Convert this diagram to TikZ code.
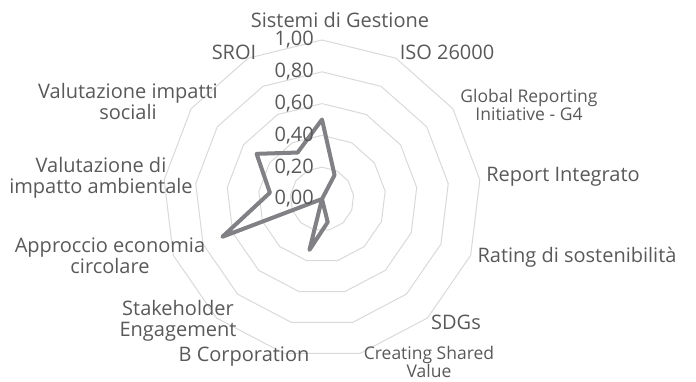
\documentclass[tikz,border=0pt]{standalone}
\usepackage{fontspec}
\setmainfont{Open Sans}
\usetikzlibrary{positioning}
\definecolor{txtgray}{RGB}{89,89,89}
\definecolor{gridgray}{RGB}{217,217,217}
\definecolor{datagray}{RGB}{128,128,133}

\begin{document}
\begin{tikzpicture}[x=1pt,y=1pt,
    gridline/.style={draw=gridgray,line width=1pt},
    dataline/.style={draw=datagray,line width=4pt,line join=round},
    lbl/.style={text=txtgray,font=\fontsize{20}{21}\selectfont,align=center,inner sep=0pt},
    smalllbl/.style={text=txtgray,font=\fontsize{17.5}{16.5}\selectfont,align=center,inner sep=0pt},
    vallbl/.style={text=txtgray,font=\fontsize{20}{21}\selectfont,anchor=east,inner sep=0pt}]
    \useasboundingbox (0,0) rectangle (696,382);
    \begin{scope}[shift={(322,183)}]
        \foreach \r in {1,...,5}
            \draw[gridline] (90:\r*31.8) \foreach \k in {1,...,12} {-- (90-\k*360/13:\r*31.8)} -- cycle;
        \foreach \v [count=\k from 0] in {0.50,0.17,0,0,0,0,0.15,0.33,0,0.67,0.33,0.50,0.33}
            \coordinate (p\k) at (90-\k*360/13:\v*159);
        \draw[dataline] (p0) \foreach \k in {1,...,12} {-- (p\k)} -- cycle;
    \end{scope}
    \node[vallbl] (v0) at (314,183) {0,00};
    \node[vallbl] (v1) at (314,214.8) {0,20};
    \node[vallbl] (v2) at (314,246.6) {0,40};
    \node[vallbl] (v3) at (314,278.4) {0,60};
    \node[vallbl] (v4) at (314,310.2) {0,80};
    \node[vallbl] (v5) at (314,342) {1,00};
    \node[lbl] (sistemi) at (340,362) {Sistemi di Gestione};
    \node[lbl] (iso) at (447,330) {ISO 26000};
    \node[smalllbl] (gri) at (529,277) {Global Reporting\\Initiative - G4};
    \node[lbl] (report) at (563,205) {Report Integrato};
    \node[lbl] (rating) at (577,125) {Rating di sostenibilità};
    \node[lbl] (sdgs) at (456,60) {SDGs};
    \node[smalllbl] (csv) at (429,20) {Creating Shared\\Value};
    \node[lbl] (bcorp) at (244,25) {B Corporation};
    \node[lbl] (stake) at (178,61) {Stakeholder\\Engagement};
    \node[lbl] (circ) at (110,126) {Approccio economia\\circolare};
    \node[lbl] (amb) at (101,204) {Valutazione di\\impatto ambientale};
    \node[lbl] (soc) at (128,280) {Valutazione impatti\\sociali};
    \node[lbl] (sroi) at (234,330) {SROI};
\end{tikzpicture}
\end{document}
